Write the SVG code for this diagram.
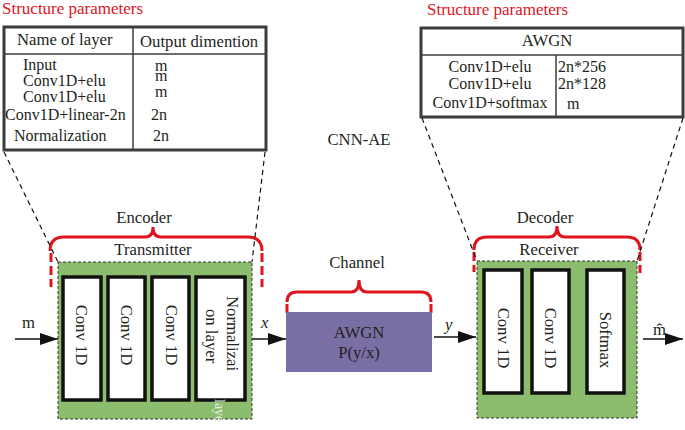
<svg xmlns="http://www.w3.org/2000/svg" width="685" height="430" viewBox="0 0 685 430">
<defs>
<style>
text{font-family:"Liberation Serif","Times New Roman",serif;fill:#231f20;font-size:16.7px}
.row{font-size:16px}
.red{fill:#e0141e;font-size:17px}
.mid{text-anchor:middle}
.tbl{fill:#fff;stroke:#3c3c3c;stroke-width:3}
.div{stroke:#3c3c3c;stroke-width:1.5;fill:none}
.dash{stroke:#111;stroke-width:1.2;stroke-dasharray:5 4;fill:none}
.brace{stroke:#e0141e;stroke-width:3;fill:none}
.bdash{stroke:#e0141e;stroke-width:3;fill:none;stroke-dasharray:9 4}
.green{fill:#8cbd6e;stroke:#333;stroke-width:1;stroke-dasharray:3 2}
.inner{fill:#fff;stroke:#111;stroke-width:3.5}
.arrow{stroke:#111;stroke-width:1.5;fill:none;marker-end:url(#ah)}
</style>
<marker id="ah" markerUnits="userSpaceOnUse" markerWidth="18" markerHeight="12" viewBox="0 0 18 12" refX="18" refY="6" orient="auto">
<path d="M0,0 L18,6 L0,12 z" fill="#111"/>
</marker>
</defs>
<rect width="685" height="430" fill="#fff"/>

<g id="encoder-params">
<text class="red" x="2" y="14">Structure parameters</text>
<rect class="tbl" x="4" y="27" width="262" height="123"/>
<line class="div" x1="4" y1="54" x2="266" y2="54"/>
<line class="div" x1="133" y1="27" x2="133" y2="150"/>
<text x="17" y="45">Name of layer</text>
<text x="140" y="47">Output dimention</text>
<text class="row" x="23" y="70">Input</text>
<text class="row" x="23" y="86">Conv1D+elu</text>
<text class="row" x="23" y="102">Conv1D+elu</text>
<text class="row" x="5" y="120">Conv1D+linear-2n</text>
<text class="row" x="14" y="141">Normalization</text>
<text class="row" x="155" y="71">m</text>
<text class="row" x="155" y="81">m</text>
<text class="row" x="155" y="97">m</text>
<text class="row" x="151" y="120">2n</text>
<text class="row" x="153" y="141">2n</text>
</g>

<g id="decoder-params">
<text class="red" x="427" y="15">Structure parameters</text>
<rect class="tbl" x="421" y="28" width="262" height="89"/>
<line class="div" x1="421" y1="55" x2="683" y2="55"/>
<line class="div" x1="556" y1="55" x2="556" y2="117"/>
<text class="mid" x="547" y="46">AWGN</text>
<text class="mid row" x="490" y="72">Conv1D+elu</text>
<text class="mid row" x="490" y="89">Conv1D+elu</text>
<text class="mid row" x="490" y="108">Conv1D+softmax</text>
<text class="row" x="558" y="72">2n*256</text>
<text class="row" x="558" y="89">2n*128</text>
<text class="row" x="567" y="109">m</text>
</g>

<g id="title">
<text class="mid" x="359" y="145">CNN-AE</text>
</g>

<g id="transmitter">
<text class="mid" x="144" y="223">Encoder</text>
<path class="brace" d="M50,251 Q50,237 64,237 L145,237 Q153,237 153,227 Q153,237 161,237 L248,237 Q262,237 262,251"/>
<line class="bdash" x1="51" y1="253" x2="51" y2="287"/>
<line class="bdash" x1="262" y1="253" x2="262" y2="287"/>
<text class="mid" x="153" y="255">Transmitter</text>
<rect class="green" x="58" y="262" width="194" height="157"/>
<rect class="inner" x="63" y="277" width="38" height="123"/>
<rect class="inner" x="108" y="277" width="37" height="123"/>
<rect class="inner" x="152" y="277" width="37" height="123"/>
<rect class="inner" x="196" y="277" width="49" height="123"/>
<text class="mid" transform="translate(76,335) rotate(90)">Conv 1D</text>
<text class="mid" transform="translate(121,335) rotate(90)">Conv 1D</text>
<text class="mid" transform="translate(166,335) rotate(90)">Conv 1D</text>
<text transform="translate(227,296) rotate(90)">Normalizai</text>
<text transform="translate(206,309) rotate(90)">on layer</text>
<text transform="translate(215,399) rotate(90)" style="fill:#e6eee0;font-size:14px">laye</text>
</g>

<g id="channel">
<text class="mid" x="357" y="268">Channel</text>
<path class="brace" d="M287,302 Q287,292 297,292 L351,292 Q359,292 359,280 Q359,292 367,292 L421,292 Q431,292 431,302"/>
<line class="brace" x1="287" y1="304" x2="287" y2="313"/>
<line class="brace" x1="431" y1="304" x2="431" y2="313"/>
<rect x="286" y="312" width="146" height="60" fill="#7a6fa4"/>
<text class="mid" x="359" y="338">AWGN</text>
<text class="mid" x="359" y="358">P(y/x)</text>
</g>

<g id="receiver">
<text class="mid" x="545" y="223">Decoder</text>
<path class="brace" d="M474,250 Q474,237 487,237 L549,237 Q557,237 557,226 Q557,237 565,237 L627,237 Q640,237 640,250"/>
<line class="bdash" x1="474" y1="252" x2="474" y2="272"/>
<line class="bdash" x1="640" y1="252" x2="640" y2="273"/>
<text class="mid" x="549" y="255">Receiver</text>
<rect class="green" x="477" y="261" width="160" height="157"/>
<rect class="inner" x="484" y="270" width="38" height="123"/>
<rect class="inner" x="532" y="270" width="37" height="123"/>
<rect class="inner" x="587" y="270" width="37" height="123"/>
<text class="mid" transform="translate(498,338) rotate(90)">Conv 1D</text>
<text class="mid" transform="translate(545,338) rotate(90)">Conv 1D</text>
<text class="mid" transform="translate(600,340) rotate(90)">Softmax</text>
</g>

<g id="connectors">
<line class="dash" x1="4" y1="152" x2="58" y2="262"/>
<line class="dash" x1="265" y1="152" x2="252" y2="262"/>
<line class="dash" x1="422" y1="118" x2="477" y2="261"/>
<line class="dash" x1="683" y1="118" x2="637" y2="261"/>
<line class="arrow" x1="15" y1="339" x2="58" y2="339"/>
<line class="arrow" x1="252" y1="339" x2="286" y2="339"/>
<line class="arrow" x1="434" y1="337" x2="476" y2="337"/>
<line class="arrow" x1="643" y1="339" x2="683" y2="339"/>
<text x="22" y="328">m</text>
<text x="261" y="328" style="font-style:italic">x</text>
<text x="445" y="330" style="font-style:italic">y</text>
<text x="653" y="335">m̂</text>
</g>
</svg>
